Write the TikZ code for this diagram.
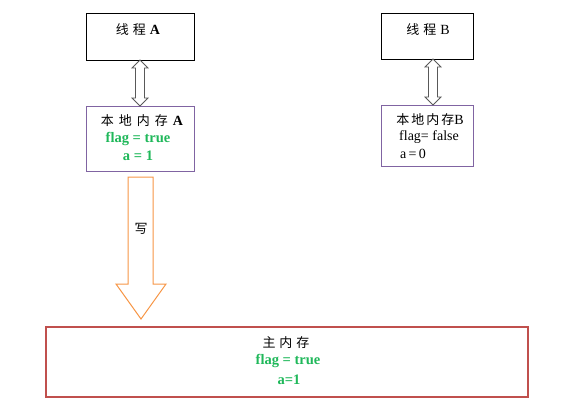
\documentclass[tikz,border=0pt]{standalone}
\usepackage{fontspec}
\setmainfont{Liberation Serif}
\newfontfamily\cjk{Noto Sans CJK SC}
\usetikzlibrary{calc}
\definecolor{boxpurple}{HTML}{8064A2}
\definecolor{boxred}{HTML}{C0504D}
\definecolor{arrorange}{HTML}{F79646}
\definecolor{txtgreen}{HTML}{1FB85A}
\definecolor{arrgray}{HTML}{595959}
\begin{document}
\begin{tikzpicture}[x=1pt,y=-1pt,
  thread/.style={draw=black,line width=0.9pt,fill=white},
  localmem/.style={draw=boxpurple,line width=1pt,fill=white},
  mainmem/.style={draw=boxred,line width=1.2pt,fill=white},
  lbl/.style={inner sep=0pt,font=\fontsize{14}{16}\selectfont},
  cjklbl/.style={inner sep=0pt,font=\cjk\fontsize{13}{15}\selectfont},
  green/.style={inner sep=0pt,text=txtgreen,font=\bfseries\fontsize{14.5}{16}\selectfont},
  dbl/.style={draw=arrgray,line width=0.8pt,fill=white,line join=miter},
  wr/.style={draw=arrorange,line width=1pt,fill=white,line join=miter}]
\useasboundingbox (0,0) rectangle (567,413);
% boxes
\path[thread] (86,13) rectangle (194,60);
\coordinate (ta) at (140,60);
\path[localmem] (86,106) rectangle (194,171);
\coordinate (la) at (140,106);
\path[thread] (381,13) rectangle (473,59);
\coordinate (tb) at (433,59);
\path[localmem] (381,105) rectangle (473,166);
\coordinate (lb) at (433,105);
\path[mainmem] (46,327) rectangle (528,397);
\coordinate (mm) at (141,327);
% texts
\node[cjklbl] (tat) at (138,30) {线\hspace{4pt}程\hspace{4pt}{\rmfamily\bfseries\fontsize{14}{15}\selectfont A}};
\node[cjklbl] (tbt) at (428,30) {线\hspace{4pt}程\hspace{4pt}{\rmfamily\fontsize{14}{15}\selectfont B}};
\node[cjklbl] (lat) at (142,121) {本\hspace{5pt}地\hspace{5pt}内\hspace{5pt}存\hspace{5pt}{\rmfamily\bfseries\fontsize{14}{15}\selectfont A}};
\node[green] (la1) at (138,139) {flag = true};
\node[green] (la2) at (138,156) {a = 1};
\node[cjklbl] (lbt) at (430,120) {本\hspace{2pt}地\hspace{2pt}内\hspace{2pt}存{\rmfamily\fontsize{14}{15}\selectfont B}};
\node[lbl] (lb1) at (429,137) {flag= false};
\node[lbl] (lb2) at (413,154) {a\,=\,0};
\node[cjklbl] (mmt) at (286,343) {主\hspace{4pt}内\hspace{4pt}存};
\node[green] (mm1) at (288,361) {flag = true};
\node[green] (mm2) at (289,380) {a=1};
% double arrows
\draw[dbl] (ta) -- ++(8,8) -- ++(-3.5,0) -- ($(la)+(4.5,-8)$) -- ++(3.5,0) -- (la)
  -- ++(-8,-8) -- ++(3.5,0) -- ($(ta)+(-4.5,8)$) -- ++(-3.5,0) -- cycle;
\draw[dbl] (tb) -- ++(8,8) -- ++(-3.5,0) -- ($(lb)+(4.5,-8)$) -- ++(3.5,0) -- (lb)
  -- ++(-8,-8) -- ++(3.5,0) -- ($(tb)+(-4.5,8)$) -- ++(-3.5,0) -- cycle;
% write arrow
\coordinate (wtip) at ($(mm)+(0,-8)$);
\draw[wr] (128,177) -- (153,177) -- (153,284) -- (166,284) -- (wtip) -- (116,284) -- (128,284) -- cycle;
\node[cjklbl] (wrt) at (141,229) {写};
\end{tikzpicture}
\end{document}
